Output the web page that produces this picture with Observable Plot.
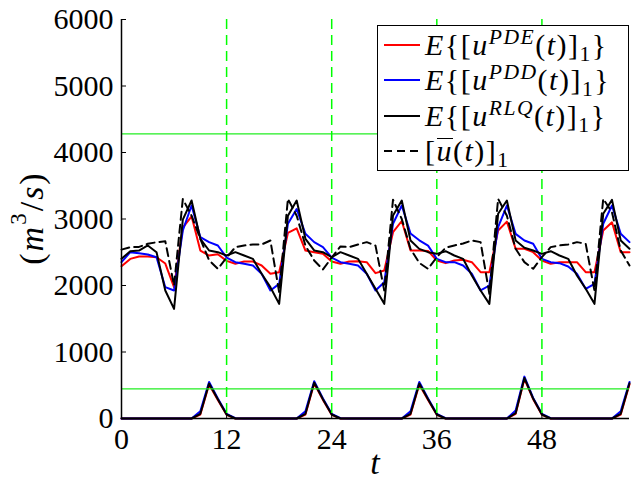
<!DOCTYPE html>
<html><head><meta charset="utf-8">
<script src="https://cdn.jsdelivr.net/npm/d3@7"></script>
<script src="https://cdn.jsdelivr.net/npm/@observablehq/plot@0.6"></script>
<style>
body{margin:0;background:#fff;}
#wrap{position:relative;width:631px;height:481px;font-family:"Liberation Serif";color:#000;}
#wrap svg{position:absolute;left:0;top:0;}
#legend{position:absolute;left:377px;top:25px;width:250px;height:144px;border:1.5px solid #000;background:#fff;}
.row{position:absolute;left:0;height:34px;display:flex;align-items:center;font-size:30px;white-space:nowrap;font-family:"Liberation Serif";}
.row sup{font-size:0.72em;vertical-align:0.5em;line-height:0;}
.row sub{font-size:0.72em;vertical-align:-0.3em;line-height:0;}
.row .txt{margin-left:5px;letter-spacing:1.5px;}
.ob{display:inline-block;border-top:1.5px solid #000;line-height:0.75;padding-top:1px;}
</style></head><body><div id="wrap"></div>
<script>
// time steps and ticks
const tSteps = Array.from({length: 59}, (_, i) => i);
const xTicks = [0, 12, 24, 36, 48];
const yTicks = [0, 1000, 2000, 3000, 4000, 5000, 6000];
const thresholds = [4280, 444];
const markers = [12, 24, 36, 48];

// component 1 series
const uPDE = [2290,2400,2435,2435,2425,2330,1975,2870,3040,2525,2450,2470,
  2370,2326,2361,2361,2301,2176,2200,2790,2860,2526,2501,2476,
  2360,2326,2361,2366,2351,2186,2226,2802,2970,2526,2526,2520,
  2376,2336,2376,2386,2351,2201,2201,2827,2960,2552,2552,2501,
  2376,2326,2351,2351,2351,2201,2201,2827,2950,2501,2501];
const uPDD = [2351,2501,2486,2466,2426,1975,1925,2827,3203,2727,2652,2602,
  2420,2351,2326,2301,2176,1925,2025,2928,3150,2777,2652,2577,
  2420,2351,2326,2301,2176,1925,2050,2928,3203,2782,2680,2600,
  2401,2351,2351,2301,2176,1925,2000,2877,3203,2777,2677,2627,
  2401,2351,2336,2286,2176,1950,2025,2928,3203,2777,2652];
const uRLQ = [2401,2516,2526,2602,2501,1925,1649,2990,3278,2702,2526,2501,
  2451,2501,2451,2401,2176,1975,1724,3050,3278,2702,2527,2501,
  2426,2501,2451,2401,2176,1950,1724,3053,3278,2677,2551,2501,
  2476,2516,2451,2401,2151,1925,1724,3078,3278,2677,2567,2527,
  2476,2516,2451,2401,2151,1950,1724,3078,3288,2677,2552];
const uBar = [2540,2577,2580,2627,2650,2665,2000,3300,3050,2700,2380,2250,
  2420,2577,2602,2617,2617,2677,1900,3303,3050,2600,2376,2241,
  2420,2587,2577,2617,2652,2600,1925,3290,3000,2550,2340,2250,
  2426,2567,2602,2632,2677,2652,1875,3303,3050,2552,2351,2251,
  2426,2577,2602,2617,2652,2627,1925,3303,3100,2526,2301];

// lower component series
const lowPDE = [0,0,0,0,0,0,0,0,0,60,510,280,55,0,0,0,0,0,0,0,0,60,525,280,55,0,0,0,0,0,0,0,0,60,510,280,55,0,0,0,0,0,0,0,0,70,595,290,55,0,0,0,0,0,0,0,0,60,515];
const lowPDD = [0,0,0,0,0,0,0,0,0,110,550,300,70,5,0,0,0,0,0,0,0,110,560,300,70,5,0,0,0,0,0,0,0,110,550,300,70,5,0,0,0,0,0,0,0,120,630,310,70,5,0,0,0,0,0,0,0,110,550];
const lowRLQ = [0,0,0,0,0,0,0,0,0,70,525,290,60,0,0,0,0,0,0,0,0,70,540,290,60,0,0,0,0,0,0,0,0,70,525,290,60,0,0,0,0,0,0,0,0,80,610,300,60,0,0,0,0,0,0,0,0,70,530];

const legendNames = [
  '<i>E</i>{[<i>u</i><sup><i>PDE</i></sup>(<i>t</i>)]<sub>1</sub>}',
  '<i>E</i>{[<i>u</i><sup><i>PDD</i></sup>(<i>t</i>)]<sub>1</sub>}',
  '<i>E</i>{[<i>u</i><sup><i>RLQ</i></sup>(<i>t</i>)]<sub>1</sub>}',
  '[<span class="ob"><i>u</i></span>(<i>t</i>)]<sub>1</sub>'
];
const legendColors = ["#ff0000", "#0000ff", "#000000", "#000000"];
const legendDash = [null, null, null, "8,5"];

const FONT = "Liberation Serif";
const mk = vals => tSteps.map((t, i) => ({t, v: vals[i]}));

const chart = Plot.plot({
  width: 631, height: 481,
  marginLeft: 121, marginRight: 2, marginTop: 19, marginBottom: 63,
  style: {fontFamily: FONT, fontSize: "30px", color: "#000", background: "#fff"},
  x: {domain: [0, 58]},
  y: {domain: [0, 6000]},
  marks: [
    Plot.line(mk(uPDE), {x: "t", y: "v", stroke: "#ff0000", strokeWidth: 2}),
    Plot.line(mk(uPDD), {x: "t", y: "v", stroke: "#0000ff", strokeWidth: 2}),
    Plot.line(mk(uRLQ), {x: "t", y: "v", stroke: "#000000", strokeWidth: 2}),
    Plot.line(mk(uBar), {x: "t", y: "v", stroke: "#000000", strokeWidth: 2, strokeDasharray: "8,5"}),
    Plot.line(mk(lowPDE), {x: "t", y: "v", stroke: "#ff0000", strokeWidth: 2}),
    Plot.line(mk(lowPDD), {x: "t", y: "v", stroke: "#0000ff", strokeWidth: 2}),
    Plot.line(mk(lowRLQ), {x: "t", y: "v", stroke: "#000000", strokeWidth: 2}),
    Plot.ruleY(thresholds, {stroke: "#22ee22", strokeWidth: 1.3}),
    Plot.ruleX(markers, {stroke: "#00ff00", strokeWidth: 1.5, strokeDasharray: "10,6"}),
    Plot.ruleX([0], {stroke: "#000", strokeWidth: 1.5}),
    Plot.ruleY([0], {stroke: "#000", strokeWidth: 1.5}),
    Plot.axisY({ticks: yTicks, tickSize: 5, dx: 5, text: null, label: null}),
    Plot.axisY({ticks: yTicks, tickSize: 0, tickPadding: 8, tickFormat: d => String(d), fontSize: 30, fontFamily: FONT, label: null}),
    Plot.axisX({ticks: xTicks, tickSize: 5, dy: -5, text: null, label: null}),
    Plot.axisX({ticks: xTicks, tickSize: 0, tickPadding: 9, tickFormat: d => String(d), fontSize: 30, fontFamily: FONT, label: null})
  ]
});

const svg = d3.select(chart);
const yl = svg.append("text")
  .attr("transform", "translate(31,218) rotate(-90)")
  .attr("text-anchor", "middle")
  .attr("dominant-baseline", "central")
  .attr("fill", "#000")
  .attr("letter-spacing", "2")
  .style("font-family", FONT)
  .style("font-size", "34px");
yl.append("tspan").text("(");
yl.append("tspan").attr("font-style", "italic").text("m");
yl.append("tspan").attr("font-size", "23px").attr("dy", "-13").text("3");
yl.append("tspan").attr("dy", "13").text("/");
yl.append("tspan").attr("font-style", "italic").text("s");
yl.append("tspan").text(")");

svg.append("text")
  .attr("x", 375).attr("y", 474)
  .attr("text-anchor", "middle")
  .attr("font-style", "italic")
  .attr("fill", "#000")
  .style("font-family", FONT)
  .style("font-size", "34px")
  .text("t");

const wrap = document.getElementById("wrap");
wrap.appendChild(chart);

const legend = document.createElement("div");
legend.id = "legend";
legendNames.forEach((name, i) => {
  const row = document.createElement("div");
  row.className = "row";
  row.style.top = (2 + 35.3 * i) + "px";
  const dash = legendDash[i] ? `stroke-dasharray="${legendDash[i]}"` : "";
  row.innerHTML = `<svg width="42" height="34" style="position:static"><line x1="6" x2="42" y1="17" y2="17" stroke="${legendColors[i]}" stroke-width="2" ${dash}/></svg><span class="txt">${name}</span>`;
  legend.appendChild(row);
});
wrap.appendChild(legend);
</script></body></html>
